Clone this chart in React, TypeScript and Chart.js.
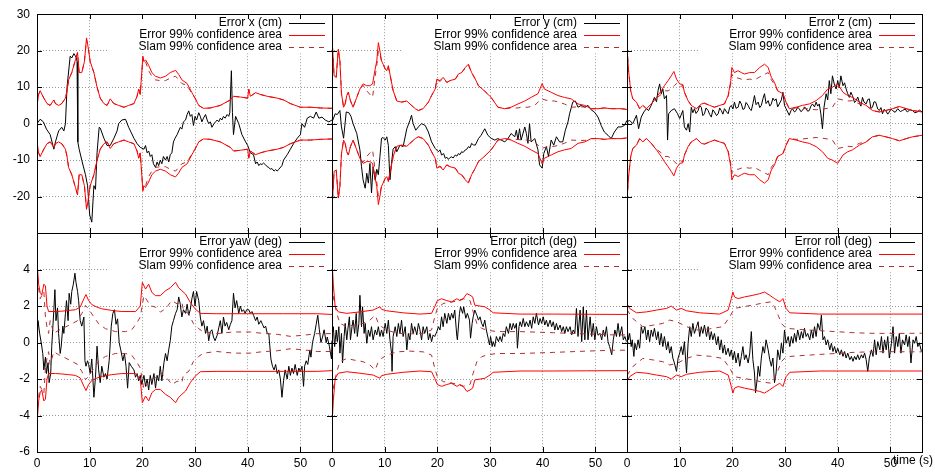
import React, { useEffect, useRef } from 'react';
import { Chart, registerables } from 'chart.js';

Chart.register(...registerables);

type P = [number, number][];

// ---------- axes / labels ----------
const X_MIN = 0;
const X_MAX = 56;
const X_STEP = 10;
const TOP_MIN = -30;
const TOP_MAX = 30;
const TOP_STEP = 10;
const BOT_MIN = -6;
const BOT_MAX = 6;
const BOT_STEP = 2;
const X_TITLE = 'time (s)';
const LEGEND_CONF = 'Error 99% confidence area';
const LEGEND_SLAM = 'Slam 99% confidence area';
const PANEL_LABELS = ['Error x (cm)', 'Error y (cm)', 'Error z (cm)', 'Error yaw (deg)', 'Error pitch (deg)', 'Error roll (deg)'];

// ---------- Error x (cm) ----------
const ERR_X: P = [[0,0],[0.6,1.2],[1.2,0.5],[1.8,-1.5],[2.5,-3],[3.2,-7],[3.5,-5],[4.1,-2],[4.7,-1],[5.1,-2],[5.4,0],[5.7,10],[6.3,18.5],[6.6,18],[7,19.2],[7.5,18],[7.6,17],[7.75,-5],[8,-7],[8.5,-10],[9.2,-14],[9.6,-17],[10,-25],[10.4,-27],[10.8,-17],[11.1,-18],[11.4,-8],[11.8,-1],[12,-1.2],[12.7,-4],[13.3,-6],[13.9,-6],[14.6,-4],[15.2,-2],[15.5,0],[16.1,1],[16.8,1.2],[17.4,-1],[18.4,-4],[19,-5.5],[19.6,-6.5],[20.3,-7],[20.6,-6],[20.9,-8],[21.2,-7.5],[21.5,-9],[21.8,-8.5],[22.1,-11],[22.5,-12],[22.8,-10.5],[23.1,-11.5],[23.4,-10],[23.7,-11],[24,-9],[24.4,-10],[24.7,-9],[25,-10.5],[25.3,-8.5],[25.6,-8],[25.9,-5],[26.2,-4],[26.6,-3],[26.9,-2],[27.2,-1],[27.5,-1.5],[27.8,0.5],[28.2,1],[28.5,2.5],[28.8,3.5],[29.1,2],[29.4,2.5],[29.7,-0.5],[30,2],[30.3,1],[30.7,3],[31,2],[31.3,0.5],[31.6,1.5],[32,2.5],[32.3,1],[32.6,0],[32.9,0.5],[33.2,-1],[33.6,0],[33.9,0.5],[34.2,1],[34.5,0.5],[34.8,1.5],[35.1,1],[35.4,2],[35.7,1.5],[36.1,2.5],[36.4,2],[36.6,3],[36.9,14.5],[37.1,3],[37.3,-3],[37.7,2],[38.3,0],[38.9,-3],[39.6,-5],[40,-6],[40.5,-8],[41.1,-8.5],[41.5,-11],[41.8,-10.5],[42.1,-11.5],[42.4,-11],[42.7,-11.2],[43,-10.8],[43.4,-11.3],[43.7,-11.8],[44,-12],[44.3,-12.5],[44.6,-12.3],[45,-13],[45.3,-12.6],[45.6,-13],[45.9,-12.5],[46.5,-11.5],[46.8,-10],[47.5,-8.5],[48.1,-7],[48.7,-5.5],[49.4,-4],[50,-3],[50.3,0],[50.8,-1],[51.3,1.5],[51.9,2],[52.5,1.5],[53,3.2],[53.5,1.5],[54.1,1.8],[54.7,1],[55.4,0.5],[56,1]];
const CONF_X: P = [[0,5],[0.3,8],[0.6,9],[1.3,7],[1.9,5.5],[2.5,5],[3.2,6.5],[3.5,5.5],[4.1,5],[4.7,5.5],[5.4,7],[5.7,9],[6,12],[6.6,14],[7.3,17.5],[7.7,19.5],[8,14],[8.5,14],[9,17],[9.4,23.5],[9.7,21],[10.1,17],[10.8,14],[11.4,10],[12,7],[12.7,5.5],[13.3,5],[13.9,6.8],[14.6,5.5],[15.5,5],[16.5,4.5],[17.4,5],[18.4,5.5],[19,7.5],[19.3,9.5],[19.6,8],[20.1,18.5],[20.3,17],[20.6,17.5],[21.2,16],[21.8,14],[22.5,13],[23.4,12.5],[24.4,13],[25.3,14],[26.3,14.6],[26.9,13.5],[27.5,12],[28.5,11],[29.4,8.5],[30,7],[30.7,5],[31.6,4.2],[32.9,4.3],[34.8,5],[36.7,6.5],[37.3,7.5],[38.6,7.3],[40,7],[40.2,9.5],[40.5,7.5],[41.5,8.5],[42.4,8],[43.7,7.5],[45.6,7],[46.8,6.5],[48.1,5.5],[50,4.5],[51.9,4.5],[53.8,4.3],[56,4.2]];
const SLAM_X: P = [[0,5],[0.3,8],[0.6,9],[1.3,7],[1.9,5.5],[2.5,5],[3.2,6.5],[3.5,5.5],[4.1,5],[4.7,5.5],[5.4,7],[5.7,9],[6,12],[6.6,14],[7.3,17.5],[7.7,19.5],[8,14],[8.5,14],[9,17],[9.4,23],[9.7,21],[10.1,17],[10.8,14],[11.4,10],[12,7],[12.7,5.5],[13.3,5],[13.9,6.5],[14.6,5.5],[15.5,5],[16.5,4.5],[17.4,5],[18.4,5.5],[19,7.5],[19.3,9.5],[19.6,8],[20.1,18],[20.3,16.5],[20.6,17],[21.2,14.5],[21.8,13],[22.5,12],[23.4,11.8],[24.4,11.8],[25.3,12.5],[26.3,13],[26.9,12],[27.5,11],[28.5,10.5],[29.4,8.3],[30,7],[30.7,5],[31.6,4.2],[32.9,4.3],[34.8,5],[36.7,6.5],[37.3,7.5],[38.6,7.3],[40,7],[40.2,9.3],[40.5,7.5],[41.5,8.5],[42.4,8],[43.7,7.5],[45.6,7],[46.8,6.5],[48.1,5.5],[50,4.5],[51.9,4.5],[53.8,4.3],[56,4.2]];

// ---------- Error y (cm) ----------
const ERR_Y: P = [[0,0.5],[0.3,1.5],[0.6,2.7],[1,2.5],[1.5,3.6],[1.8,-0.9],[2.2,-4],[2.7,3.2],[3.2,3],[3.6,2],[4,0],[4.7,-2.7],[5.3,-7.2],[5.6,-11.8],[5.9,-15.4],[6.3,-17.7],[6.6,-13.6],[6.9,-16.3],[7.2,-10.9],[7.5,-19],[7.8,-11.8],[8.2,-15.5],[8.5,-12.5],[8.8,-14],[9.1,-9],[9.4,-4],[9.7,-3.8],[10.1,-4.5],[10.4,-3.6],[10.7,-6],[11,-15.4],[11.3,-10.9],[11.6,-7],[12,-6.3],[12.3,-7.7],[12.9,-5.9],[13.5,-6.3],[14.2,-1.4],[14.8,0.9],[15.1,2.3],[15.4,0],[15.9,-1.8],[16.4,-0.9],[17,0],[17.7,-0.5],[18.3,-2.3],[18.9,-5],[19.6,-6.8],[20.2,-7.7],[20.5,-7.2],[20.8,-8.6],[21.2,-8.2],[21.5,-9.5],[21.8,-9.2],[22.1,-9.8],[22.4,-9.3],[22.7,-9.1],[23,-9.4],[23.4,-8.6],[23.7,-8.9],[24,-8.2],[24.3,-8.5],[24.6,-7.7],[24.9,-7.9],[25.3,-7.2],[25.6,-7],[25.9,-6.3],[26.2,-6.6],[26.5,-5.4],[26.8,-5.8],[27.2,-5.9],[27.8,-4.1],[28.3,-3.2],[29,-1.4],[29.6,-3.2],[30.2,-4],[30.9,-4.5],[31.5,-4.1],[32.1,-4.5],[32.8,-5],[33.4,-4.1],[34,-2.7],[34.7,-3.6],[35,-1.8],[35.3,-4.5],[35.6,-1.4],[35.9,-4.5],[36.6,-0.9],[36.9,-2.7],[37.2,-5.4],[37.5,0],[37.8,-5],[38.5,-4.1],[39.1,-7.2],[39.4,-11.3],[39.9,-12.2],[40.2,-8.2],[40.7,-6.3],[41.1,-9],[41.6,-4.5],[42.1,-5.9],[42.6,-3.6],[43.2,-5],[43.8,-5],[44.3,-1.8],[44.8,0.5],[45.1,2.7],[45.7,5.9],[46.2,6.2],[46.7,4.5],[47.3,5],[48,4.5],[48.6,5],[49.2,3.8],[49.8,3.2],[50.5,1.8],[51.1,-0.5],[51.7,-2.3],[52.4,-3.2],[53,-4.1],[53.6,-2.3],[54.3,-0.9],[54.9,-0.9],[55.5,-0.5],[56,0.9]];
const CONF_Y: P = [[0,23.5],[0.4,13.1],[0.8,12.7],[1.2,20.4],[1.5,17.2],[1.8,8.2],[2.2,4.5],[2.5,5.4],[2.8,7.7],[3.1,8.6],[3.5,6.3],[4,4.5],[4.7,7.2],[5.3,9.5],[5.9,10.9],[6.6,10.4],[7.2,10.4],[7.7,10.9],[8.2,15],[8.5,17.2],[8.8,22.2],[9.1,19.9],[9.4,17.2],[9.7,16.3],[10.1,15],[10.4,14.5],[10.7,15.9],[11,13.6],[11.6,9.1],[12.3,6.2],[13.2,5.9],[14.2,6.2],[14.8,5.4],[15.8,4.1],[16.4,3.6],[17.3,4.1],[18.3,5.9],[18.9,7.7],[19.6,9.5],[19.9,12.2],[20.5,11.8],[21.1,12.7],[21.8,11.3],[22.4,11.8],[23.4,12.2],[24,13.6],[24.6,14],[25.3,15.4],[25.9,16.3],[26.5,14],[27.2,12.2],[27.8,10.4],[29,8.9],[30.2,7.2],[31.5,4.5],[32.8,4.1],[34,4.5],[35.3,5.4],[36.6,6.2],[37.8,7.2],[39.1,8.2],[39.9,11],[40.3,9.5],[41.6,8.6],[42.9,7.7],[44.1,7.2],[45.4,6.8],[46.7,5.4],[48,5],[49.2,4.1],[50.5,4.1],[51.7,4.3],[53,4.1],[54.9,4.1],[56,3.9]];
const SLAM_Y: P = [[0,23.5],[0.4,13.1],[0.8,12.7],[1.2,20.4],[1.5,17.2],[1.8,8.2],[2.2,4.5],[2.5,5.4],[2.8,7.7],[3.1,8.6],[3.5,6.3],[4,4.5],[4.7,7.2],[5.3,9.5],[5.9,10.5],[6.6,9],[7.2,8],[7.7,7.2],[8.2,13],[8.5,16],[8.8,19.9],[9.1,19],[9.4,17.2],[9.7,16.3],[10.1,15],[10.4,14.5],[10.7,15.5],[11,13.6],[11.6,9.1],[12.3,6.2],[13.2,5.9],[14.2,6.2],[14.8,5.4],[15.8,4.1],[16.4,3.6],[17.3,4.1],[18.3,5.9],[18.9,7.7],[19.6,9.5],[19.9,12],[20.5,11.6],[21.1,12.4],[21.8,11.3],[22.4,11.8],[23.4,12.2],[24,13.4],[24.6,14],[25.3,15.2],[25.9,16],[26.5,14],[27.2,12.2],[27.8,10.4],[29,8.9],[30.2,7.2],[31.5,4.5],[32.8,4.1],[34,4.3],[35.3,4.3],[35.9,4.5],[37.2,4.5],[38.5,5],[39.7,6.8],[41,6.3],[42.3,6.2],[44.1,5.4],[45.4,4.5],[46.7,4.6],[48,4.6],[49.2,4.1],[50.5,4.1],[51.7,4.3],[53,4.1],[54.9,4.1],[56,3.9]];

// ---------- Error z (cm) ----------
const ERR_Z: P = [[0,0.5],[0.5,0.9],[1.1,0],[1.8,2.3],[2.2,-1.4],[2.7,1.8],[3.2,3.2],[3.7,4.1],[4.1,3.6],[4.6,5],[5.2,7.2],[5.6,6],[5.9,9.1],[6.2,10.9],[6.5,8.2],[6.8,9.5],[7.1,6.8],[7.5,7.7],[7.7,-4.5],[7.9,2.7],[8.4,3.6],[9,4.1],[9.6,2.7],[10,1.4],[10.6,3.6],[10.9,-0.9],[11.3,-1.8],[11.6,0],[11.9,-2.3],[12.2,4.5],[12.5,3],[12.8,4.1],[13.1,2.8],[13.5,3.6],[13.8,5],[14.1,4.5],[14.4,2.2],[14.7,2.7],[15,4.3],[15.4,3.6],[15.7,2.5],[16,1.8],[16.3,3.8],[16.6,3.2],[17,2.2],[17.3,2.7],[17.6,4.3],[17.9,3.6],[18.2,2.6],[18.5,4.1],[18.9,3.2],[19.2,2.7],[19.5,4.5],[19.8,5],[20.1,4],[20.4,5.9],[20.7,4.2],[21.1,4.5],[21.4,6.2],[21.7,5.4],[22,3.9],[22.3,4.1],[22.6,5.8],[23,5],[23.3,4],[23.6,3.6],[23.9,5.5],[24.2,7.7],[24.5,5.2],[24.9,5.9],[25.2,4.4],[25.5,5],[25.8,6.8],[26.1,8.2],[26.4,5.5],[26.8,6.3],[27.1,4.8],[27.4,5.4],[27.7,7],[28,6.3],[28.3,6.8],[28.6,4.6],[28.9,5.4],[29.3,6.5],[29.6,8.6],[29.9,5],[30.2,4.1],[30.8,2.3],[31.1,3.5],[31.4,4.1],[31.8,3.2],[32.1,3.6],[32.4,4.5],[32.7,4.1],[33,3.3],[33.3,3.6],[33.7,4.6],[34,4.1],[34.3,3.4],[34.6,3.6],[34.9,4.8],[35.2,5.4],[35.6,4.6],[35.9,5.9],[36.2,4.8],[36.5,5.4],[36.8,2.7],[37.1,-1.4],[37.4,4.5],[37.8,8.2],[38.1,6.5],[38.4,11.8],[38.7,8.2],[39,13.1],[39.4,10.5],[39.7,9.5],[40,11.8],[40.3,9.8],[40.6,13.1],[41,10.4],[41.3,11.2],[41.6,9.5],[41.9,8.2],[42.2,7.2],[42.5,8.6],[42.8,7.7],[43.2,5.8],[43.5,6.3],[43.8,7.3],[44.1,5.9],[44.4,4.8],[44.7,7.2],[45,5.9],[45.4,5.4],[45.7,6.6],[46,6.8],[46.3,4.2],[46.6,4.5],[46.9,6],[47.2,5.9],[47.6,4],[47.9,3.6],[48.2,4.4],[48.5,2.7],[48.8,3.9],[49.1,3.6],[49.5,2.6],[49.8,3.2],[50.1,4],[50.4,3.6],[50.9,3.1],[51.4,4.1],[51.9,3.3],[52.3,3.6],[52.8,4],[53.2,3.2],[53.7,3.8],[54.2,3.6],[54.6,3],[55.1,3.2],[55.5,3.7],[56,3.2]];
const CONF_Z: P = [[0,21],[0.3,14.5],[0.7,9],[1.1,6.8],[1.8,5.9],[2.4,4.1],[3,5],[3.7,4.1],[4.6,5.4],[5.6,7.2],[6.5,9],[7.1,10.4],[7.8,11.8],[8.4,13.1],[8.9,14.3],[9.4,12.2],[10,10.9],[10.6,10.7],[10.9,8.6],[11.6,6.3],[12.2,5],[13.2,4.1],[14.1,5.4],[14.7,5.6],[15.7,5],[16.6,4.5],[17.6,5],[18.5,5.4],[19.2,7.7],[19.7,11.8],[19.9,15.4],[20.4,14],[21.1,14.5],[21.7,14],[22.3,13.6],[23.3,14],[24.2,14],[25.2,15.4],[26.1,16.3],[26.8,15.4],[27.4,12.7],[28,11.3],[28.6,9],[29.6,8.2],[30.2,5.9],[30.8,4.1],[32.1,4.5],[33.3,5],[34.6,5.4],[35.9,6.3],[37.1,7.7],[38.1,9.5],[39,10],[40,10.9],[41,8.6],[41.9,7.7],[42.8,7.2],[44.1,5.9],[45.4,5],[46.6,3.6],[47.9,3.2],[49.1,3.6],[50.4,4.1],[51.7,4.7],[53,4.1],[54.2,3.6],[56,3.2]];
const SLAM_Z: P = [[0,21],[0.3,14.5],[0.7,9],[1.1,6.8],[1.8,5.9],[2.4,4.1],[3,5],[3.7,4.1],[4.6,5.4],[5.6,7],[6.5,8],[7.1,9],[7.8,9],[8.4,9.5],[9,10.4],[9.4,11],[10,10],[10.6,10.5],[10.9,8.6],[11.6,6.3],[12.2,5],[13.2,4.1],[14.1,5.4],[14.7,5.6],[15.7,5],[16.6,4.5],[17.6,5],[18.5,5.4],[19.2,7.5],[19.7,11],[19.9,13.5],[20.4,12.5],[21.1,12.5],[21.7,12.2],[22.3,12],[23.3,12.2],[24.2,12],[25.2,12.8],[26.1,13.5],[26.8,14],[27.4,12],[28,10.8],[28.6,9],[29.6,8.2],[30.2,5.9],[30.8,4.1],[32.1,4.3],[33.3,4.2],[34.6,4],[35.9,3.8],[37.1,4],[38.1,4.2],[39,4.5],[40,6.8],[41,6.5],[41.9,6.2],[42.8,6.3],[44.1,5.4],[45.4,5],[46.6,3.6],[47.9,3.2],[49.1,3.6],[50.4,4.1],[51.7,4.7],[53,4.1],[54.2,3.6],[56,3.2]];

// ---------- Error yaw (deg) ----------
const ERR_YAW: P = [[0,0],[0.2,1.2],[0.5,0.5],[0.8,0],[1.1,-0.6],[1.3,-1.5],[1.6,-0.8],[1.8,-1.7],[2.1,-1.1],[2.3,-2.2],[2.6,-1.7],[2.8,-0.2],[3.2,1.8],[3.4,2.9],[3.6,1.2],[3.9,1.9],[4.1,0.5],[4.4,-0.6],[4.6,-0.2],[4.9,0.9],[5.1,0.5],[5.4,1.6],[5.6,2.3],[5.9,1.2],[6.1,2.7],[6.4,2.1],[6.6,2.8],[6.9,3.2],[7.2,3.8],[7.4,3.3],[7.7,2.8],[7.9,2.3],[8.2,1.2],[8.5,0.9],[8.9,1.4],[9.1,-1],[9.3,-1.3],[9.6,-1],[9.8,-1.2],[10.1,-1.7],[10.4,-0.9],[10.8,-3],[11.1,-1.9],[11.4,-0.2],[11.7,-1.5],[12,-2.2],[12.3,-1.3],[12.7,-1.9],[13,-1.7],[13.3,-2],[13.7,-1],[14.1,0.9],[14.4,1.6],[14.7,1.8],[15,1],[15.3,1.3],[15.6,0],[15.9,-0.4],[16.3,-1],[16.6,-0.6],[16.9,-1.3],[17.2,-2.5],[17.5,-1.1],[17.9,-1.3],[18.4,-1.5],[18.7,-1.9],[19,-1.7],[19.3,-2.1],[19.6,-1.8],[19.9,-2.3],[20.3,-1.8],[20.6,-2.4],[20.9,-2],[21.2,-2.6],[21.5,-1.8],[21.8,-2.3],[22.2,-1.7],[22.5,-2.5],[22.8,-1.8],[23.1,-2.1],[23.4,-1.3],[23.7,-2.1],[24.1,-1.1],[24.4,-0.6],[24.7,-1],[25,-0.4],[25.3,0.1],[25.6,0.9],[25.9,1.2],[26.3,1.6],[26.6,1.8],[26.9,2.5],[27.2,2.1],[27.5,1.4],[27.8,1.8],[28.2,1.6],[28.5,2.1],[28.8,1.5],[29.1,1.8],[29.4,2.4],[29.7,2.8],[30,2],[30.3,2.8],[30.7,2.3],[31,1.4],[31.3,0.9],[31.6,1.2],[32,0.5],[32.3,0.9],[32.6,0.1],[32.9,0.6],[33.2,0.7],[33.5,0.3],[33.8,0.1],[34.2,0.4],[34.5,0.8],[34.8,1.2],[35.1,0.5],[35.4,1.4],[35.7,0.9],[36,1.1],[36.4,0.7],[36.7,1],[37,1.2],[37.3,2.7],[37.6,1.9],[37.9,2.3],[38.3,1.6],[38.6,2],[38.9,1.7],[39.2,1.8],[39.5,1.6],[39.8,1.8],[40.2,1.8],[40.5,1.6],[40.8,1.7],[41.1,1.5],[41.5,1.2],[41.8,1.4],[42.1,1],[42.5,1.2],[42.8,1],[43.1,0.8],[43.4,0.9],[43.7,0.5],[44,0.5],[44.2,-0.2],[44.4,-0.9],[44.7,-1.3],[45,-1.5],[45.3,-1.2],[45.6,-1.7],[45.9,-1.5],[46.2,-2],[46.5,-3],[46.8,-2.1],[47.1,-1.5],[47.5,-2],[47.8,-1.3],[48.1,-1.8],[48.4,-1.4],[48.7,-1.7],[49,-1.2],[49.4,-1.8],[49.7,-1.4],[50,-1.6],[50.3,-1.3],[50.6,-2.4],[50.8,-1.3],[51.1,-1],[51.4,-1.2],[51.8,-0.4],[52,-0.8],[52.3,0],[52.7,0.5],[53,1],[53.3,1.5],[53.6,0.7],[53.9,0],[54.2,0.3],[54.5,0.7],[54.9,0],[55.1,0.3],[55.5,-0.2],[55.9,-0.9],[56,0.1]];
const CONF_YAW: P = [[0,4.5],[0.3,3.2],[0.6,2.75],[0.9,2.6],[1.3,3.2],[1.6,3.1],[1.9,2],[2.2,1.7],[3.5,1.7],[4.7,1.72],[6,1.76],[7.3,1.8],[8.2,1.94],[8.9,2.4],[9.3,2.63],[9.8,2.3],[10.4,2.08],[11.4,1.94],[12.3,1.85],[14.2,1.76],[16.1,1.7],[18.7,1.7],[19.6,2],[20,3.3],[20.6,2.93],[21.2,3.2],[21.8,2.75],[22.5,2.57],[23.4,2.57],[24.4,2.84],[25.3,3],[26.3,3.3],[26.9,3],[27.5,2.84],[28.2,2.66],[29.1,2.2],[30,1.85],[31,1.6],[34,1.58],[40,1.58],[46.8,1.58],[53.2,1.58],[56,1.54]];
const SLAM_YAW: P = [[0,4.1],[0.3,3],[0.6,2.4],[1.3,2.8],[1.6,1.4],[1.9,0.85],[2.2,0.5],[2.5,1.2],[3.2,0.5],[4.1,0.67],[5.4,0.85],[6.6,1.03],[7.6,1.18],[8.5,1.58],[9.2,2.03],[9.8,1.85],[10.8,1.4],[11.7,1.03],[13,0.76],[14.9,0.6],[16.8,0.6],[18,0.7],[19,1.1],[19.6,1.4],[20.3,2.57],[20.9,2.3],[21.5,2.03],[22.5,1.94],[23.4,1.67],[24.4,1.85],[25.6,2.3],[26.6,2.12],[27.5,2.2],[27.8,1.76],[28.8,1.58],[29.7,1.03],[30.7,0.76],[31.6,0.58],[34.1,0.49],[37.3,0.58],[40.5,0.58],[42.9,0.5],[45.6,0.45],[48.1,0.34],[50.6,0.4],[53.2,0.49],[56,0.49]];

// ---------- Error pitch (deg) ----------
const ERR_PITCH: P = [[0,0.33],[0.25,0.87],[0.5,-0.22],[0.8,0.69],[1,0.05],[1.3,0.87],[1.5,-0.58],[1.8,0.5],[2,-1.12],[2.3,0.33],[2.5,1.05],[2.8,0.15],[3,0.69],[3.3,1.41],[3.5,0.15],[3.8,0.87],[4,1.23],[4.3,0.5],[4.6,1.6],[4.8,0.33],[5.1,1.05],[5.3,2.59],[5.6,0.87],[5.8,1.96],[6.1,0.5],[6.3,1.05],[6.6,-0.04],[6.9,0.69],[7.2,0.33],[7.5,0.87],[7.8,0.15],[8.2,0.69],[8.5,0.42],[8.8,0.87],[9.1,0.33],[9.4,0.69],[9.7,0.33],[10.1,1.05],[10.4,0.5],[10.7,1.23],[11,0.15],[11.3,-0.58],[11.4,-1.58],[11.6,0.33],[12,0.87],[12.3,0.33],[12.6,1.05],[12.9,0.5],[13.2,1.23],[13.5,0.33],[13.9,0.87],[14.2,-0.4],[14.5,0.5],[14.8,0.15],[15.1,1.05],[15.4,0.5],[15.7,0.87],[16.1,0.42],[16.4,1.05],[16.7,0.69],[17,0.15],[17.3,0.87],[17.6,0.5],[18,0.87],[18.3,0.15],[18.6,0.5],[18.9,0.05],[19.2,0.42],[19.5,0.33],[19.9,0.6],[20.2,0.87],[20.5,0.69],[20.8,1.41],[21.1,0.87],[21.4,1.6],[21.8,1.05],[22.1,1.6],[22.4,1.23],[22.7,1.6],[23,1.33],[23.3,1.78],[23.7,0.33],[23.8,0.15],[24.2,1.6],[24.4,1.96],[24.8,1.6],[25,1.96],[25.4,1.33],[25.7,1.6],[26.1,1.23],[26.3,0.24],[26.6,1.05],[26.8,1.41],[27.1,1.78],[27.5,1.5],[27.8,1.23],[28.1,1.41],[28.4,1.05],[28.7,0.87],[29,1.23],[29.3,0.69],[29.7,0.15],[29.9,-0.13],[30.1,0.33],[30.4,-0.22],[30.6,0.05],[30.9,-0.22],[31.2,0.33],[31.6,0.05],[31.9,0.33],[32.2,0.05],[32.5,0.5],[32.8,0.33],[33.1,0.87],[33.5,0.5],[33.8,1.05],[34.1,0.69],[34.4,1.05],[34.7,0.78],[35,1.05],[35.2,-0.31],[35.5,0.87],[35.7,1.14],[36,0.87],[36.3,1.32],[36.6,0.87],[36.9,1.14],[37.3,0.87],[37.6,1.23],[37.9,0.78],[38.2,1.41],[38.5,1.05],[38.8,1.6],[39.2,0.96],[39.5,1.32],[39.8,1.05],[40.1,1.41],[40.4,0.96],[40.7,1.23],[41,0.87],[41.4,1.23],[41.7,0.87],[42,1.14],[42.3,0.69],[42.6,1.05],[42.9,0.69],[43.3,0.96],[43.6,0.6],[43.9,0.87],[44.2,0.5],[44.5,0.87],[44.8,0.6],[45.2,0.87],[45.5,0.42],[45.8,0.69],[46.1,0.5],[46.4,1.87],[46.7,0.33],[47.1,1.78],[47.4,0.05],[47.7,1.96],[48,0.15],[48.3,1.78],[48.6,0.15],[49,1.41],[49.3,0.33],[49.6,1.05],[49.9,0.15],[50.2,0.87],[50.5,0.4],[50.9,0.5],[51.2,0.15],[51.5,0.69],[51.8,0.33],[52.1,0.87],[52.4,0.05],[52.7,-0.22],[53.1,-0.67],[53.4,0.15],[53.7,0.69],[54,0.33],[54.3,1.05],[54.6,0.33],[55,0.87],[55.3,0.15],[55.6,0.33],[55.9,0.05]];
const CONF_PITCH: P = [[0,4.5],[0.25,3.2],[0.6,1.96],[1.2,1.68],[2.8,1.6],[5.3,1.68],[7.8,1.78],[9.1,1.96],[9.4,1.82],[10.4,1.74],[13.5,1.63],[16.7,1.56],[18.9,1.6],[19.5,1.96],[20,2.3],[20.8,2.4],[21.8,2.3],[22.7,2.23],[23.7,2.4],[24.3,2.3],[24.9,2.4],[25.6,2.68],[26.2,2.6],[26.7,2.5],[27.1,2.05],[28.1,2],[29,1.96],[30,1.78],[30.6,1.63],[35.7,1.56],[42,1.56],[48.3,1.55],[56,1.54]];
const SLAM_PITCH: P = [[0,4.2],[0.25,2.5],[0.9,1.6],[1.5,1.05],[2.8,0.87],[4,0.95],[5.9,1.05],[7.2,1.23],[8.2,1.5],[8.8,1.05],[9.4,0.87],[10.4,0.69],[12.3,0.51],[14.8,0.47],[17.3,0.51],[18.9,0.69],[19.5,1.41],[20,1.87],[21.1,2.14],[22.4,2.2],[23.7,2.28],[24.9,2.4],[26.2,2.3],[26.8,1.68],[27.5,1.05],[28.4,0.78],[29.3,0.69],[31.2,0.6],[35.7,0.6],[42,0.54],[48.3,0.47],[53.4,0.42],[56,0.42]];

// ---------- Error roll (deg) ----------
const ERR_ROLL: P = [[0,0.87],[0.25,0.15],[0.5,0.5],[0.8,-0.22],[1,0.15],[1.3,-0.76],[1.5,-0.04],[1.8,-0.4],[2.1,0.15],[2.4,-0.31],[2.7,0.87],[3,0.5],[3.4,0.87],[3.7,0.15],[4,0.69],[4.3,0.05],[4.6,0.69],[4.9,0.33],[5.2,0.78],[5.6,0.15],[5.9,0.6],[6.2,-0.13],[6.5,0.5],[6.8,-0.22],[7.1,0.33],[7.5,-0.4],[7.8,0.05],[8.1,-0.58],[8.4,-0.22],[8.7,-0.85],[9,-1.12],[9.4,-1.58],[9.7,-0.85],[10,-0.58],[10.3,-0.22],[10.6,-0.67],[10.9,0.05],[11.3,-1.67],[11.6,-0.04],[11.9,0.87],[12.2,0.33],[12.5,1.05],[12.8,0.5],[13.2,0.87],[13.5,1.14],[13.8,0.33],[14.1,0.87],[14.4,0.5],[14.7,0.96],[15.1,0.33],[15.4,0.87],[15.7,0.15],[16,0.6],[16.3,0.15],[16.6,0.5],[17,-0.13],[17.3,0.33],[17.6,-0.4],[17.9,0.15],[18.2,-0.58],[18.5,-0.13],[18.8,-0.67],[19.2,-0.31],[19.5,-0.76],[19.8,-0.4],[20.1,-0.94],[20.4,-0.49],[20.7,-1.12],[21.1,-0.58],[21.4,-1.3],[21.7,-0.76],[22,-0.22],[22.3,-0.94],[22.6,-0.67],[23,-1.12],[23.3,-0.58],[23.6,0.6],[23.9,-0.94],[24.2,-1.67],[24.4,-2.75],[24.7,-2.03],[24.9,-1.3],[25.2,-1.85],[25.5,-0.85],[25.8,-0.22],[26.1,-0.58],[26.4,0.15],[26.8,-0.4],[27.1,-0.94],[27.4,-1.3],[27.7,-0.85],[28,-2.2],[28.3,-1.67],[28.6,-0.4],[29,-0.94],[29.3,-0.04],[29.6,-0.58],[29.9,0.69],[30.2,-0.04],[30.6,0.33],[30.9,-0.22],[31.2,0.33],[31.5,-0.04],[31.8,0.5],[32.1,0.05],[32.4,0.69],[32.8,0.15],[33.1,0.6],[33.4,0.24],[33.7,0.78],[34,0.33],[34.3,0.5],[34.7,0.15],[35,0.69],[35.3,0.24],[35.6,0.87],[35.9,0.33],[36.2,1.05],[36.6,0.69],[36.9,1.5],[37.2,0.15],[37.5,0.33],[37.8,-0.13],[38.1,0.15],[38.5,-0.4],[38.8,-0.04],[39.1,-0.49],[39.4,-0.22],[39.7,-0.58],[40,-0.31],[40.4,-0.67],[40.7,-0.4],[41,-0.76],[41.3,-0.49],[41.6,-0.85],[41.9,-0.58],[42.3,-0.94],[42.6,-0.76],[42.9,-1.03],[43.2,-0.76],[43.5,-0.94],[43.8,-0.67],[44.1,-0.94],[44.5,-0.67],[44.8,-0.85],[45.1,-0.58],[45.4,-0.94],[45.7,-1.58],[46,-0.85],[46.4,-0.4],[46.7,-0.76],[47,0.15],[47.3,-0.67],[47.6,0.05],[48,-0.4],[48.3,0.33],[48.6,-0.58],[48.9,0.15],[49.2,-0.4],[49.5,0.33],[49.8,-0.85],[50.2,-0.04],[50.5,0.87],[50.8,-0.58],[51.1,0.33],[51.4,-0.22],[51.7,0.5],[52,-0.58],[52.3,0.15],[52.7,-0.13],[53,0.42],[53.3,-0.22],[53.6,0.33],[53.9,-1.12],[54.3,0.15],[54.6,-0.04],[54.9,0.33],[55.2,-0.22],[55.5,-0.04],[55.9,-0.49]];
const CONF_ROLL: P = [[0,2.14],[0.5,1.87],[1.8,1.63],[3.7,1.68],[5.6,1.78],[7.5,1.87],[8.4,2],[9.4,1.78],[10.3,1.87],[11.3,1.74],[13.8,1.63],[17.6,1.56],[19.2,1.78],[19.8,2.41],[20.1,2.77],[20.4,2.5],[21.1,2.41],[22.3,2.5],[23.9,2.59],[25.2,2.68],[26.1,2.77],[27.1,2.59],[28,2.41],[29,2.23],[29.6,2.41],[30.2,1.87],[30.9,1.63],[36.6,1.56],[42.9,1.56],[49.2,1.56],[56,1.56]];
const SLAM_ROLL: P = [[0,1.8],[1.1,1.32],[3,0.87],[4.9,0.95],[6.8,1.05],[8.1,1.23],[9.4,1.15],[11.3,0.87],[13.2,0.69],[15.7,0.75],[18.2,0.87],[19.5,1.41],[20.4,1.87],[22,1.96],[23.9,2.05],[25.8,2.17],[27.4,2.23],[28,1.96],[28.7,1.5],[29.3,1.05],[30.2,0.78],[32.8,0.72],[36.6,0.65],[39.7,0.6],[42.9,0.54],[46,0.51],[49.2,0.5],[56,0.51]];

const ERRS = [ERR_X, ERR_Y, ERR_Z, ERR_YAW, ERR_PITCH, ERR_ROLL];
const CONFS = [CONF_X, CONF_Y, CONF_Z, CONF_YAW, CONF_PITCH, CONF_ROLL];
const SLAMS = [SLAM_X, SLAM_Y, SLAM_Z, SLAM_YAW, SLAM_PITCH, SLAM_ROLL];

// ---------- styling ----------
const FONT = "'Liberation Sans', Arial, Helvetica, sans-serif";
const RED = '#ff0000';
const SLAM_COLOR = '#b03030';
const GRID_COLOR = '#9a9a9a';
const W = 935;
const H = 472;

const pts = (a: P, s = 1) => a.map(([x, y]) => ({ x, y: y * s }));

const panelPlugin = {
  id: 'panelDeco',
  beforeDatasetsDraw(chart: any) {
    const ctx = chart.ctx;
    ctx.save();
    ctx.fillStyle = '#ffffff';
    for (let i = 0; i < 6; i++) {
      const xs = chart.scales['x' + (i % 3)];
      const ys = chart.scales[i < 3 ? 'yT' : 'yB'];
      ctx.fillRect(xs.left + 71, ys.top + 1, xs.right - xs.left - 72, 38);
    }
    ctx.restore();
  },
  afterDatasetsDraw(chart: any) {
    const ctx = chart.ctx;
    ctx.save();
    for (let i = 0; i < 6; i++) {
      const xs = chart.scales['x' + (i % 3)];
      const ys = chart.scales[i < 3 ? 'yT' : 'yB'];
      const L = Math.round(xs.left), R = Math.round(xs.right), T = Math.round(ys.top), B = Math.round(ys.bottom);
      // inward tick marks
      ctx.strokeStyle = '#000';
      ctx.lineWidth = 1;
      ctx.setLineDash([]);
      ctx.beginPath();
      xs.ticks.forEach((t: any) => {
        const px = Math.round(xs.getPixelForValue(t.value)) + 0.5;
        ctx.moveTo(px, T); ctx.lineTo(px, T + 5);
        ctx.moveTo(px, B); ctx.lineTo(px, B - 5);
      });
      ys.ticks.forEach((t: any) => {
        const py = Math.round(ys.getPixelForValue(t.value)) + 0.5;
        ctx.moveTo(L, py); ctx.lineTo(L + 5, py);
        ctx.moveTo(R, py); ctx.lineTo(R - 5, py);
      });
      ctx.stroke();
      // border
      ctx.strokeRect(L + 0.5, T + 0.5, R - L, B - T);
      // legend
      const lines = [PANEL_LABELS[i], LEGEND_CONF, LEGEND_SLAM];
      const colors = ['#000', RED, SLAM_COLOR];
      const offs = [9, 21, 32.5];
      ctx.font = '12px ' + FONT;
      ctx.textAlign = 'right';
      ctx.textBaseline = 'middle';
      ctx.fillStyle = '#000';
      lines.forEach((txt, k) => {
        const y = T + offs[k];
        ctx.fillText(txt, L + 245, y);
        ctx.strokeStyle = colors[k];
        ctx.setLineDash(k === 2 ? [5, 5] : []);
        ctx.beginPath();
        const ly = Math.round(y) + 0.5;
        ctx.moveTo(L + 252, ly);
        ctx.lineTo(L + 288, ly);
        ctx.stroke();
      });
      ctx.setLineDash([]);
    }
    ctx.restore();
  },
  afterDraw(chart: any) {
    const ctx = chart.ctx;
    ctx.save();
    ctx.font = '12px ' + FONT;
    ctx.fillStyle = '#000';
    ctx.textAlign = 'left';
    ctx.textBaseline = 'middle';
    ctx.fillText(X_TITLE, 893, 461);
    ctx.restore();
  },
};

export default function App() {
  const ref = useRef<HTMLCanvasElement | null>(null);
  useEffect(() => {
    if (!ref.current) return;
    const datasets: any[] = [];
    for (let i = 0; i < 6; i++) {
      const base = {
        xAxisID: 'x' + (i % 3),
        yAxisID: i < 3 ? 'yT' : 'yB',
        pointRadius: 0,
        pointHoverRadius: 0,
        borderWidth: 1,
        fill: false,
        tension: 0,
      };
      datasets.push({ ...base, label: LEGEND_CONF, data: pts(CONFS[i]), borderColor: RED });
      datasets.push({ ...base, label: LEGEND_CONF, data: pts(CONFS[i], -1), borderColor: RED });
      datasets.push({ ...base, label: LEGEND_SLAM, data: pts(SLAMS[i]), borderColor: SLAM_COLOR, borderDash: [5, 5] });
      datasets.push({ ...base, label: LEGEND_SLAM, data: pts(SLAMS[i], -1), borderColor: SLAM_COLOR, borderDash: [5, 5] });
      datasets.push({ ...base, label: PANEL_LABELS[i], data: pts(ERRS[i]), borderColor: '#000' });
    }
    const tickFont = { family: FONT, size: 12 };
    const xAxis = (w: number) => ({
      type: 'linear',
      position: 'bottom',
      stack: 'cols',
      stackWeight: 1,
      weight: w,
      min: X_MIN,
      max: X_MAX,
      grid: { color: GRID_COLOR, lineWidth: 1, drawTicks: false },
      border: { display: false, dash: [1, 2] },
      ticks: { stepSize: X_STEP, includeBounds: false, autoSkip: false, maxRotation: 0, padding: 4, color: '#000', font: tickFont },
      afterFit: (s: any) => { s.height = 20; },
    });
    const yAxis = (w: number, min: number, max: number, step: number, hide: number) => ({
      type: 'linear',
      position: 'left',
      stack: 'rows',
      stackWeight: 1,
      weight: w,
      min,
      max,
      grid: { color: GRID_COLOR, lineWidth: 1, drawTicks: false },
      border: { display: false, dash: [1, 2] },
      ticks: {
        stepSize: step,
        autoSkip: false,
        padding: 7,
        color: '#000',
        font: tickFont,
        callback: (v: any) => (v === hide ? '' : String(v)),
      },
      afterFit: (s: any) => { s.width = 37; },
    });
    const chart = new Chart(ref.current, {
      type: 'line',
      data: { datasets },
      options: {
        responsive: false,
        animation: false,
        devicePixelRatio: 1,
        events: [],
        layout: { padding: { top: 12, right: 13, left: 0, bottom: 0 } },
        plugins: { legend: { display: false }, tooltip: { enabled: false } },
        scales: {
          x0: xAxis(1),
          x1: xAxis(2),
          x2: xAxis(3),
          yT: yAxis(2, TOP_MIN, TOP_MAX, TOP_STEP, TOP_MIN),
          yB: yAxis(1, BOT_MIN, BOT_MAX, BOT_STEP, BOT_MAX),
        } as any,
      },
      plugins: [panelPlugin],
    } as any);
    return () => chart.destroy();
  }, []);
  return (
    <div style={{ position: 'absolute', left: 0, top: 0, width: W, height: H, background: '#fff' }}>
      <canvas ref={ref} width={W} height={H} style={{ display: 'block', width: W, height: H }} />
    </div>
  );
}
